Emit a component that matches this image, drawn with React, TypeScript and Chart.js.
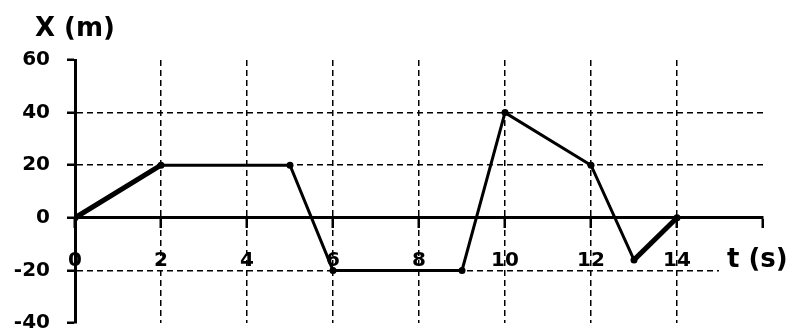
import React, { useEffect, useRef } from "react";
import { Chart, registerables } from "chart.js";

Chart.register(...registerables);

const timeValues = [0, 2, 5, 6, 9, 10, 12, 13, 14];
const positionValues = [0, 20, 20, -20, -20, 40, 20, -16, 0];
const xTickRange = { min: 0, max: 16, step: 2 };
const yTickRange = { min: -40, max: 60, step: 20 };
const yAxisTitle = "X (m)";
const xAxisTitle = "t (s)";

const FONT = "'DejaVu Sans', 'Liberation Sans', Arial, sans-serif";

const titlesPlugin = {
  id: "axisTitles",
  afterDraw(chart: any) {
    const { ctx, chartArea, scales } = chart;
    ctx.save();
    ctx.font = `bold 26px ${FONT}`;
    ctx.fillStyle = "#000";
    ctx.textBaseline = "alphabetic";
    ctx.textAlign = "left";
    ctx.fillText(yAxisTitle, chartArea.left - 40, chartArea.top - 24);
    const ty = scales.y.getPixelForValue(-16);
    const tx = chartArea.right - 36;
    const w = ctx.measureText(xAxisTitle).width;
    ctx.fillStyle = "#fff";
    ctx.fillRect(tx - 8, ty - 16, w + 12, 32);
    ctx.fillStyle = "#000";
    ctx.textBaseline = "middle";
    ctx.fillText(xAxisTitle, tx, ty);
    ctx.restore();
  },
};

export default function App() {
  const ref = useRef<HTMLCanvasElement | null>(null);

  useEffect(() => {
    if (!ref.current) return;
    const data = timeValues.map((t, i) => ({ x: t, y: positionValues[i] }));
    const chart = new Chart(ref.current, {
      type: "line",
      data: {
        datasets: [
          {
            data,
            borderColor: "#000",
            backgroundColor: "#000",
            borderWidth: 3,
            pointRadius: 3.5,
            pointBackgroundColor: "#000",
            pointBorderWidth: 0,
            tension: 0,
            segment: {
              borderWidth: (c: any) =>
                c.p0DataIndex === 0 || c.p0DataIndex === 7 ? 5 : 3,
            },
          },
        ],
      },
      options: {
        responsive: false,
        animation: false,
        layout: { padding: { top: 60, bottom: 13, right: 29, left: 0 } },
        plugins: {
          legend: { display: false },
          tooltip: { enabled: false },
          title: { display: false },
        },
        scales: {
          x: {
            type: "linear",
            position: { y: 0 } as any,
            min: xTickRange.min,
            max: xTickRange.max,
            ticks: {
              stepSize: xTickRange.step,
              autoSkip: false,
              color: "#000",
              font: { family: FONT, size: 20, weight: "bold" },
              padding: 22,
              maxRotation: 0,
              callback: (v: any) => (v === xTickRange.max ? "" : String(v)),
            },
            grid: {
              color: (c: any) =>
                c.tick && (c.tick.value === xTickRange.min || c.tick.value === xTickRange.max)
                  ? "rgba(0,0,0,0)"
                  : "#000",
              lineWidth: 1.5,
              tickColor: "#000",
              tickWidth: 2.5,
              tickLength: 9,
              drawTicks: true,
            },
            border: { display: true, color: "#000", width: 3, dash: [6, 4] },
          },
          y: {
            type: "linear",
            position: "left",
            min: yTickRange.min,
            max: yTickRange.max,
            afterFit: (s: any) => {
              s.width = 75;
              s.paddingTop = 0;
              s.paddingBottom = 0;
            },
            ticks: {
              stepSize: yTickRange.step,
              color: "#000",
              font: { family: FONT, size: 20, weight: "bold" },
              padding: 17,
            },
            grid: {
              color: (c: any) =>
                c.tick && [yTickRange.min, yTickRange.max, 0].includes(c.tick.value)
                  ? "rgba(0,0,0,0)"
                  : "#000",
              lineWidth: 1.5,
              tickColor: "#000",
              tickWidth: 2.5,
              tickLength: 8,
            },
            border: { display: true, color: "#000", width: 3, dash: [6, 4] },
          },
        },
      },
      plugins: [titlesPlugin],
    });
    return () => chart.destroy();
  }, []);

  return (
    <div style={{ position: "absolute", left: 0, top: 0, width: 792, height: 336, background: "#fff" }}>
      <canvas ref={ref} width={792} height={336} />
    </div>
  );
}
